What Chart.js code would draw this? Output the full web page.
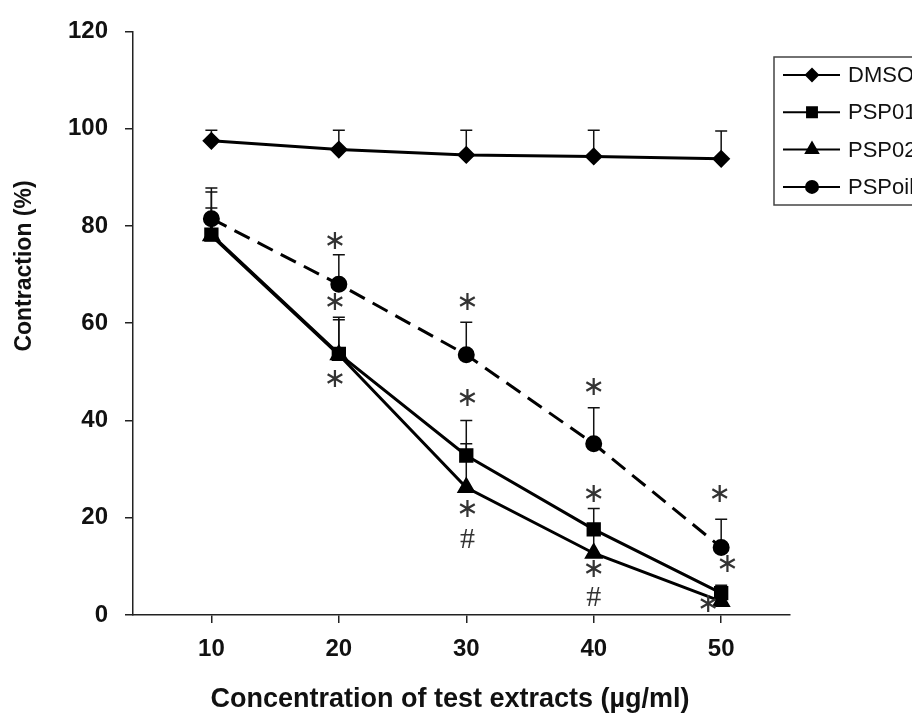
<!DOCTYPE html>
<html>
<head>
<meta charset="utf-8">
<script src="https://cdn.jsdelivr.net/npm/chart.js@4.4.0/dist/chart.umd.min.js"></script>
<style>
  body { margin: 0; background: #fff; }
</style>
</head>
<body>
<canvas id="myChart" width="912" height="718"></canvas>
<script>
// concentrations (µg/ml)
const concentrations = [10, 20, 30, 40, 50];

// mean contraction (%) per series
const dmso   = [97.5, 95.7, 94.6, 94.3, 93.8];
const psp01  = [78.2, 53.7, 32.8, 17.6, 4.5];
const psp02  = [78.0, 53.5, 26.2, 12.7, 2.8];
const pspoil = [81.5, 68.0, 53.5, 35.2, 13.9];

// upper error bars (SD)
const dmsoErr   = [2.2, 4.0, 5.1, 5.4, 5.7];
const psp01Err  = [8.8, 7.5, 7.2, 4.3, 1.6];
const psp02Err  = [5.7, 7.2, 9.0, 4.8, 1.5];
const pspoilErr = [6.3, 6.1, 6.7, 7.4, 5.8];

const seriesNames = ['DMSO', 'PSP01', 'PSP02', 'PSPoil'];
const yTicks = [0, 20, 40, 60, 80, 100, 120];

// significance marks: [concentration, contraction, symbol]
const marks = [
  [19.7, 76.8, '∗'], [19.7, 64.1, '∗'], [19.7, 48.3, '∗'],
  [30.1, 64.1, '∗'], [30.1, 44.4, '∗'], [30.1, 21.5, '∗'], [30.1, 15.4, '#'],
  [40.0, 46.7, '∗'], [40.0, 24.6, '∗'], [40.0, 9.2, '∗'], [40.0, 3.5, '#'],
  [49.9, 24.6, '∗'], [50.5, 10.2, '∗'], [49.0, 2.0, '∗']
];

const allSeries = [dmso, psp01, psp02, pspoil];
const allErr = [dmsoErr, psp01Err, psp02Err, pspoilErr];
const pointStyles = ['rectRot', 'rect', 'triangle', 'circle'];
const pointSizes = [7, 8, 8, 7];

const toPoints = arr => concentrations.map((c, i) => ({ x: c, y: arr[i] }));

const sans = 'Liberation Sans, Arial, sans-serif';
const axisFont = { family: sans, size: 24, weight: 'bold' };

const extras = {
  id: 'extras',
  beforeDatasetsDraw(chart) {
    const { ctx, scales: { x, y } } = chart;
    ctx.save();
    ctx.strokeStyle = '#111';
    ctx.lineWidth = 1.5;
    allSeries.forEach((s, k) => {
      s.forEach((v, i) => {
        const px = x.getPixelForValue(concentrations[i]);
        const y0 = y.getPixelForValue(v);
        const y1 = y.getPixelForValue(v + allErr[k][i]);
        ctx.beginPath();
        ctx.moveTo(px, y0);
        ctx.lineTo(px, y1);
        ctx.moveTo(px - 6, y1);
        ctx.lineTo(px + 6, y1);
        ctx.stroke();
      });
    });
    ctx.restore();
  },
  afterDraw(chart) {
    const { ctx, scales: { x, y } } = chart;
    ctx.save();
    ctx.fillStyle = '#333';
    ctx.textAlign = 'center';
    ctx.textBaseline = 'middle';
    marks.forEach(([cx, cy, sym]) => {
      ctx.font = sym === '#' ? '30px "Liberation Serif", serif' : '27px "DejaVu Sans", sans-serif';
      ctx.fillText(sym, x.getPixelForValue(cx), y.getPixelForValue(cy));
    });

    // axis titles
    ctx.fillStyle = '#111';
    ctx.font = 'bold 27px ' + sans;
    ctx.fillText('Concentration of test extracts (µg/ml)', 450, 700);
    ctx.save();
    ctx.translate(25, 266);
    ctx.rotate(-Math.PI / 2);
    ctx.font = 'bold 23px ' + sans;
    ctx.fillText('Contraction (%)', 0, 0);
    ctx.restore();

    // legend box (runs off the right edge like the original)
    ctx.strokeStyle = '#444';
    ctx.lineWidth = 1.5;
    ctx.strokeRect(774, 57, 160, 148);
    ctx.font = '22px ' + sans;
    ctx.textAlign = 'left';
    seriesNames.forEach((name, k) => {
      const ly = 75 + k * 37.3;
      ctx.strokeStyle = '#000';
      ctx.lineWidth = 2;
      ctx.beginPath();
      ctx.moveTo(783, ly);
      ctx.lineTo(840, ly);
      ctx.stroke();
      ctx.fillStyle = '#000';
      Chart.helpers.drawPoint(ctx, { pointStyle: pointStyles[k], radius: pointSizes[k] - 1, borderWidth: 1 }, 812, ly);
      ctx.fill();
      ctx.fillStyle = '#111';
      ctx.fillText(name, 848, ly + 1);
    });
    ctx.restore();
  }
};

new Chart(document.getElementById('myChart'), {
  type: 'line',
  data: {
    datasets: seriesNames.map((name, k) => ({
      label: name,
      data: toPoints(allSeries[k]),
      borderColor: '#000',
      backgroundColor: '#000',
      borderWidth: 3,
      borderDash: k === 3 ? [17, 9] : [],
      pointStyle: pointStyles[k],
      pointRadius: pointSizes[k],
      pointBackgroundColor: '#000',
      pointBorderColor: '#000',
      tension: 0
    }))
  },
  options: {
    responsive: false,
    animation: false,
    layout: { padding: { top: 29, right: 122, left: 0, bottom: 0 } },
    plugins: { legend: { display: false }, tooltip: { enabled: false } },
    scales: {
      x: {
        type: 'linear',
        min: 3.85,
        max: 55.4,
        afterBuildTicks: s => { s.ticks = concentrations.map(v => ({ value: v })); },
        afterFit: s => { s.height = 103; },
        grid: { drawOnChartArea: false, tickLength: 8, color: '#222', lineWidth: 1.5 },
        border: { color: '#222', width: 1.5 },
        ticks: { padding: 12, color: '#111', font: axisFont, autoSkip: false, maxRotation: 0 }
      },
      y: {
        min: 0,
        max: 120,
        afterBuildTicks: s => { s.ticks = yTicks.map(v => ({ value: v })); },
        afterFit: s => { s.width = 133; },
        grid: { drawOnChartArea: false, tickLength: 8, color: '#222', lineWidth: 1.5 },
        border: { color: '#222', width: 1.5 },
        ticks: { padding: 17, color: '#111', font: axisFont }
      }
    }
  },
  plugins: [extras]
});
</script>
</body>
</html>
